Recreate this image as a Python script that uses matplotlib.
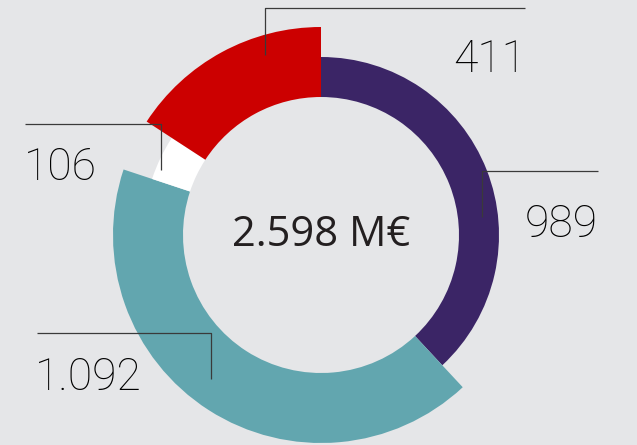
import matplotlib
matplotlib.use("Agg")
import matplotlib.pyplot as plt

# data, clockwise from 12 o'clock
labels = ['989', '1.092', '106', '411']
values = [989, 1092, 106, 411]
total_label = '2.598 M€'

colors = ['#3b2566', '#62a6af', '#ffffff', '#cc0000']
outer = [178, 208, 178, 208]
bg = '#e5e6e8'

W, H = 637, 445
fig = plt.figure(figsize=(W / 100, H / 100), dpi=100, facecolor=bg)
ax = fig.add_axes([0, 0, 1, 1])
ax.set_xlim(0, W)
ax.set_ylim(0, H)
ax.set_aspect('equal')
ax.axis('off')

cx, cy = 321, H - 235
inner_r = 138

wedges, _ = ax.pie(values, colors=colors, startangle=90, counterclock=False,
                   center=(cx, cy), radius=178,
                   wedgeprops=dict(width=178 - inner_r, linewidth=0))
for w, r in zip(wedges, outer):
    w.set_radius(r)
    w.set_width(r - inner_r)
ax.set_xlim(0, W)
ax.set_ylim(0, H)

ax.text(cx, cy, total_label, ha='center', va='center', fontsize=30,
        family=['Open Sans', 'DejaVu Sans'], color='#231f20')

def py(y):
    return H - y

lc = '#3a3a3a'
lw = 0.9
# leader lines (pixel coords from the top)
leaders = [
    [(482, 217), (482, 171), (598, 171)],   # 989
    [(211, 379), (211, 333), (37, 333)],    # 1.092
    [(161, 170), (161, 124), (25, 124)],    # 106
    [(265, 55), (265, 8), (525, 8)],        # 411
]
for pts in leaders:
    ax.plot([p[0] for p in pts], [py(p[1]) for p in pts], color=lc, lw=lw,
            solid_capstyle='butt')

label_pos = [(598, 225, 'right'), (35, 378, 'left'), (24, 168, 'left'), (526, 60, 'right')]
for lab, (x, y, ha) in zip(labels, label_pos):
    ax.text(x, py(y), lab, ha=ha, va='center', fontsize=32, fontweight='light',
            family=['Roboto', 'DejaVu Sans'], color='#000000')

fig.savefig('out.png', dpi=100, facecolor=bg)
